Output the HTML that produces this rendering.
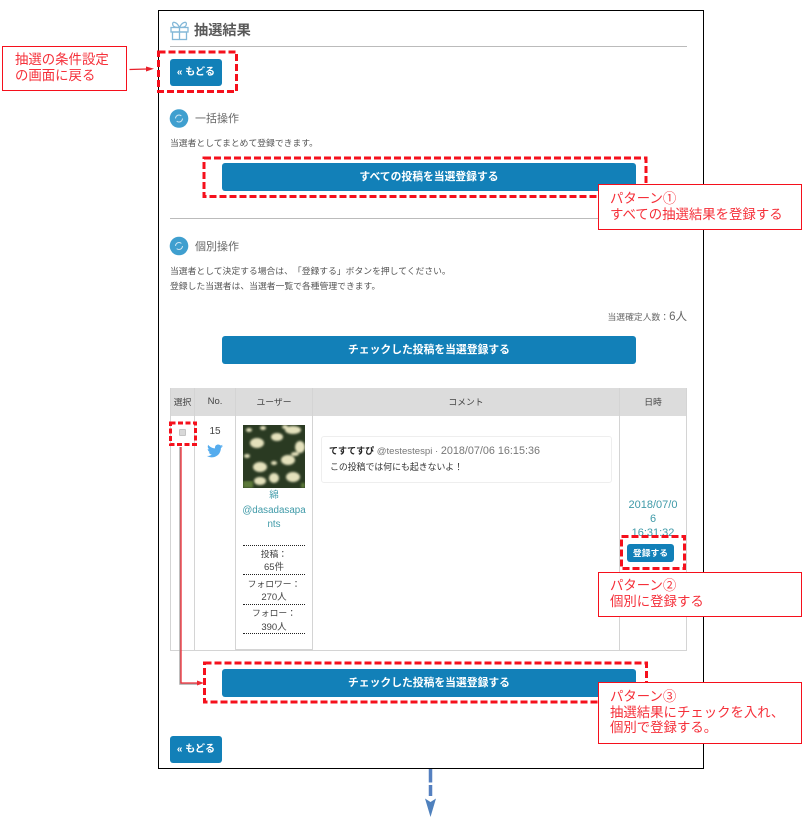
<!DOCTYPE html>
<html lang="ja"><head><meta charset="utf-8"><title>抽選結果</title>
<style>
html,body{margin:0;padding:0;background:#fff}
#p{position:relative;width:807px;height:817px;overflow:hidden;background:#fff;font-family:"Liberation Sans","Noto Sans CJK JP",sans-serif;color:#555;text-spacing-trim:space-all}
#p div{position:absolute;box-sizing:border-box}
.t{white-space:nowrap;line-height:14px}
.c{text-align:center}
.btn{background:#1280b8;border-radius:3px;color:#fff;font-weight:bold;text-align:center}
.note{background:#fff;border:1px solid #f5101c;color:#f5303a;font-size:13.400px;line-height:15.700px;white-space:nowrap}
.g{background:#d4d4d4}
.dot{border-top:1px dotted #222;height:0}
svg{position:absolute;left:0;top:0}
</style></head><body><div id="p">

<div style="left:158px;top:10px;width:546px;height:759px;border:1px solid #000"></div>

<svg width="807" height="817" viewBox="0 0 807 817">
<g fill="none" stroke="#84b8d8" stroke-width="1.300">
<rect x="171" y="27.500" width="17" height="4.500"/><rect x="172.500" y="32" width="14" height="7.500"/>
<path d="M179.500 27.500V39.500M179.500 27.500c-3-6.500-8.500-6.500-6.500-2 1 2 4.500 2 6.500 2zM179.500 27.500c3-6.500 8.500-6.500 6.500-2-1 2-4.500 2-6.500 2z"/></g>
<circle cx="179" cy="118.500" r="9.300" fill="#3f9fcf"/><circle cx="179" cy="246" r="9.300" fill="#3f9fcf"/>
<g fill="none" stroke="#cfe6f3" stroke-width="1"><circle cx="179" cy="118.500" r="3.500" stroke-dasharray="8 3"/><circle cx="179" cy="246" r="3.500" stroke-dasharray="8 3"/></g>
</svg>

<div class="t" style="left:194px;top:24px;font-size:14.200px;font-weight:bold;color:#5a5a5a">抽選結果</div>
<div style="left:170px;top:46px;width:517px;height:1px;background:#bbb"></div>

<div class="btn" style="left:170px;top:59px;width:52px;height:27px;font-size:10px;line-height:27px">« もどる</div>

<div class="t" style="left:195px;top:112px;font-size:11px;color:#666">一括操作</div>
<div class="t" style="left:170px;top:136px;font-size:8.800px;color:#555">当選者としてまとめて登録できます。</div>
<div class="btn" style="left:222px;top:163px;width:414px;height:28px;font-size:10.800px;line-height:28px">すべての投稿を当選登録する</div>
<div style="left:170px;top:218px;width:517px;height:1px;background:#bbb"></div>

<div class="t" style="left:195px;top:240px;font-size:11px;color:#666">個別操作</div>
<div class="t" style="left:170px;top:264px;font-size:8.800px;color:#555">当選者として決定する場合は、「登録する」ボタンを押してください。</div>
<div class="t" style="left:170px;top:279px;font-size:8.800px;color:#555">登録した当選者は、当選者一覧で各種管理できます。</div>
<div class="t" style="right:120px;top:310px;font-size:8.800px;color:#666">当選確定人数：<span style="font-size:11.500px">6人</span></div>
<div class="btn" style="left:222px;top:336px;width:414px;height:28px;font-size:10.800px;line-height:28px">チェックした投稿を当選登録する</div>

<!-- table -->
<div style="left:170px;top:388px;width:517px;height:28px;background:#dcdcdc"></div>
<div class="g" style="left:170px;top:388px;width:1px;height:262px"></div>
<div class="g" style="left:194px;top:388px;width:1px;height:262px"></div>
<div class="g" style="left:235px;top:388px;width:1px;height:262px"></div>
<div class="g" style="left:312px;top:388px;width:1px;height:262px"></div>
<div class="g" style="left:619px;top:388px;width:1px;height:262px"></div>
<div class="g" style="left:686px;top:388px;width:1px;height:262px"></div>
<div class="g" style="left:170px;top:650px;width:517px;height:1px"></div>
<div class="t c" style="left:170px;width:25px;top:395px;font-size:8.800px;color:#444">選択</div>
<div class="t c" style="left:195px;width:40px;top:395px;font-size:9.500px;color:#444">No.</div>
<div class="t c" style="left:236px;width:76px;top:395px;font-size:8.800px;color:#444">ユーザー</div>
<div class="t c" style="left:313px;width:306px;top:395px;font-size:8.800px;color:#444">コメント</div>
<div class="t c" style="left:620px;width:66px;top:395px;font-size:8.800px;color:#444">日時</div>

<div style="left:179px;top:429px;width:7px;height:7px;background:#d8d8d8;border:1px solid #c4c4c4;border-radius:1px"></div>
<div class="t c" style="left:195px;width:40px;top:425px;font-size:10px;color:#444">15</div>
<svg width="807" height="817" viewBox="0 0 807 817">
<defs><filter id="b" x="-5%" y="-5%" width="110%" height="110%"><feGaussianBlur stdDeviation="1.100"/></filter>
<clipPath id="cp"><rect x="243" y="425" width="62" height="63"/></clipPath></defs>
<path fill="#55acee" d="M223 446c-.600.300-1.200.400-1.900.500.700-.400 1.200-1 1.500-1.800-.600.400-1.300.600-2 .8-1.300-1.300-3.300-1.400-4.600-.200-.900.800-1.200 2-.900 3.100-2.700-.100-5.200-1.400-6.900-3.500-.900 1.500-.400 3.500 1 4.400-.500 0-1-.100-1.500-.400 0 1.600 1.100 2.900 2.600 3.300-.500.100-1 .100-1.500 0 .400 1.300 1.600 2.200 3 2.300-1.400 1.100-3.200 1.600-5 1.400 4.300 2.700 10 1.500 12.700-2.800.900-1.500 1.400-3.300 1.400-5.100.800-.500 1.500-1.200 2.100-2z"/>
<rect x="243" y="425" width="62" height="63" fill="#2a3a22"/>
<g clip-path="url(#cp)"><g filter="url(#b)" fill="#e4e1bc">
<ellipse cx="257" cy="443" rx="7" ry="5"/><ellipse cx="249" cy="430" rx="3" ry="2"/><ellipse cx="263" cy="428" rx="3" ry="2"/>
<ellipse cx="277" cy="437" rx="6" ry="4"/><ellipse cx="293" cy="430" rx="8" ry="4"/><ellipse cx="285" cy="427" rx="3" ry="2"/>
<ellipse cx="300" cy="447" rx="5" ry="6"/><ellipse cx="288" cy="460" rx="7" ry="5"/><ellipse cx="295" cy="454" rx="4" ry="2"/>
<ellipse cx="260" cy="467" rx="7" ry="5"/><ellipse cx="274" cy="463" rx="3" ry="2"/><ellipse cx="247" cy="456" rx="3" ry="2"/>
<ellipse cx="293" cy="477" rx="7" ry="5"/><ellipse cx="260" cy="481" rx="6" ry="4"/><ellipse cx="274" cy="478" rx="5" ry="5"/>
</g>
<g filter="url(#b)" fill="#5d7a3a"><rect x="243" y="481" width="10" height="7"/><rect x="301" y="483" width="4" height="5"/></g></g>
</svg>

<div class="t c" style="left:236px;width:76px;top:489px;font-size:9.500px;color:#3f9aa8">綿</div>
<div class="t c" style="left:236px;width:76px;top:504px;font-size:9.800px;color:#3f9aa8">@dasadasapa</div>
<div class="t c" style="left:236px;width:76px;top:518px;font-size:9.800px;color:#3f9aa8">nts</div>
<div class="dot" style="left:243px;top:545px;width:62px"></div>
<div class="t c" style="left:236px;width:76px;top:547px;font-size:8.800px;color:#444">投稿：</div>
<div class="t c" style="left:236px;width:76px;top:561px;font-size:9.500px;color:#444">65件</div>
<div class="dot" style="left:243px;top:574px;width:62px"></div>
<div class="t c" style="left:236px;width:76px;top:577px;font-size:8.800px;color:#444">フォロワー：</div>
<div class="t c" style="left:236px;width:76px;top:591px;font-size:9.500px;color:#444">270人</div>
<div class="dot" style="left:243px;top:604px;width:62px"></div>
<div class="t c" style="left:236px;width:76px;top:606px;font-size:8.800px;color:#444">フォロー：</div>
<div class="t c" style="left:236px;width:76px;top:621px;font-size:9.500px;color:#444">390人</div>
<div class="dot" style="left:243px;top:633px;width:62px"></div>
<div class="g" style="left:236px;top:649px;width:76px;height:1px"></div>

<div style="left:321px;top:436px;width:291px;height:47px;border:1px solid #eee;border-radius:3px"></div>
<div class="t" style="left:329px;top:444px;font-size:9.600px;color:#777"><span style="color:#222;font-weight:bold;font-size:9px">てすてすぴ</span> @testestespi · <span style="font-size:10.800px">2018/07/06 16:15:36</span></div>
<div class="t" style="left:330px;top:460px;font-size:8.900px;color:#333">この投稿では何にも起きないよ！</div>

<div class="t c" style="left:620px;width:66px;top:498px;font-size:11px;color:#3f9aa8">2018/07/0</div>
<div class="t c" style="left:620px;width:66px;top:512px;font-size:11px;color:#3f9aa8">6</div>
<div class="t c" style="left:620px;width:66px;top:526px;font-size:11px;color:#3f9aa8">16:31:32</div>
<div style="left:621px;top:536px;width:64px;height:8px;background:#fff"></div>
<div class="btn" style="left:627px;top:544px;width:47px;height:18px;font-size:8.800px;line-height:18px">登録する</div>

<div class="btn" style="left:222px;top:669px;width:414px;height:28px;font-size:10.800px;line-height:28px">チェックした投稿を当選登録する</div>
<div class="btn" style="left:170px;top:736px;width:52px;height:27px;font-size:10px;line-height:27px">« もどる</div>

<!-- dashed highlights and connectors -->
<svg width="807" height="817" viewBox="0 0 807 817">
<g fill="none" stroke="#f5101c" stroke-width="3" stroke-dasharray="7 3">
<rect x="158.500" y="52" width="78" height="39.500"/>
<rect x="204" y="158" width="442" height="38.500"/>
<rect x="170.500" y="423" width="25" height="21.500" stroke-dasharray="5 2.500"/>
<rect x="621.500" y="536.500" width="63" height="32"/>
<rect x="204.500" y="663" width="442" height="39"/>
</g>
<path d="M129.500 69.500L147 69" stroke="#e8202a" stroke-width="1.300" fill="none"/>
<path d="M154 68.800L146 66.500V71.500z" fill="#e8202a"/>
<path d="M180 447V684H198" stroke="#a8a8a8" stroke-width="1.500" fill="none"/>
<path d="M181 447V683H199" stroke="#ee2a34" stroke-width="1.300" fill="none"/>
<path d="M204 683L197 680.500V685.500z" fill="#ee2a34"/>
<path d="M430.500 769V796" stroke="#5580c0" stroke-width="3.500" stroke-dasharray="13.500 2.500" fill="none"/>
<path d="M425 798.500L430.500 817L436 798.500L430.500 802z" fill="#4f81bd"/>
</svg>

<!-- notes -->
<div class="note" style="left:2px;top:46px;width:125px;height:45px;padding:5px 0 0 12px">抽選の条件設定<br>の画面に戻る</div>
<div class="note" style="left:598px;top:184px;width:204px;height:46px;padding:6px 0 0 11px">パターン①<br>すべての抽選結果を登録する</div>
<div class="note" style="left:598px;top:572px;width:204px;height:45px;padding:5px 0 0 11px">パターン②<br>個別に登録する</div>
<div class="note" style="left:598px;top:682px;width:204px;height:62px;padding:6px 0 0 11px">パターン③<br>抽選結果にチェックを入れ、<br>個別で登録する。</div>

</div></body></html>
